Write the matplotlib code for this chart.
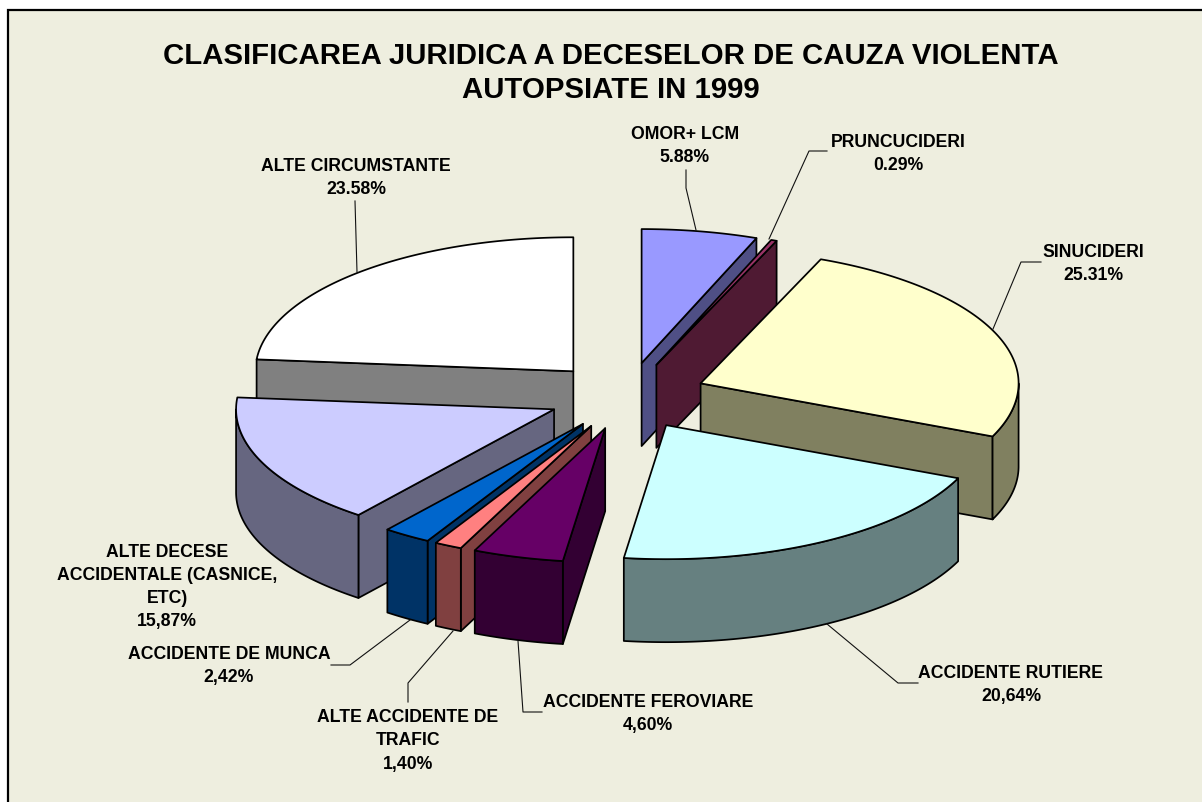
import numpy as np
import matplotlib
matplotlib.use("Agg")
import matplotlib.pyplot as plt
from matplotlib.patches import Polygon, Rectangle

plt.rcParams['font.family'] = ['Liberation Sans', 'DejaVu Sans']

title = "CLASIFICAREA JURIDICA A DECESELOR DE CAUZA VIOLENTA\nAUTOPSIATE IN 1999"
categories = ["OMOR+ LCM", "PRUNCUCIDERI", "SINUCIDERI", "ACCIDENTE RUTIERE",
              "ACCIDENTE FEROVIARE", "ALTE ACCIDENTE DE\nTRAFIC", "ACCIDENTE DE MUNCA",
              "ALTE DECESE\nACCIDENTALE (CASNICE,\nETC)", "ALTE CIRCUMSTANTE"]
values = [5.88, 0.29, 25.31, 20.64, 4.60, 1.40, 2.42, 15.87, 23.58]
value_labels = ["5.88%", "0.29%", "25.31%", "20,64%", "4,60%", "1,40%", "2,42%", "15,87%", "23.58%"]
top_colors = ["#9999FF", "#993366", "#FFFFCC", "#CCFFFF", "#660066", "#FF8080", "#0066CC", "#CCCCFF", "#FFFFFF"]
side_colors = ["#4F4F85", "#4F1A33", "#808060", "#668080", "#330033", "#804040", "#003366", "#666680", "#808080"]
draw_order = [8, 7, 6, 5, 4, 0, 1, 2, 3]

label_pos = [(685, 146), (898, 154), (1093, 264), (1011, 685), (648, 714), (408, 741), (229, 666), (167, 587), (356, 178)]
leaders = [[(686, 171), (686, 189), (696, 231)],
           [(827, 152), (809, 152), (769, 240)],
           [(1041, 263), (1021, 263), (993, 330)],
           [(918, 684), (898, 684), (827, 625)],
           [(542, 713), (523, 713), (518, 642)],
           [(408, 703), (408, 684), (453, 632)],
           [(331, 666), (350, 666), (410, 621)],
           None,
           [(355, 202), (357, 273)]]

CX, CY, RX, RY, DEPTH, EXPLODE = 627, 397, 318, 134, 83, 0.25
BG = "#EEEEDF"

fig = plt.figure(figsize=(12.02, 8.03), dpi=100, facecolor="white")
ax = fig.add_axes([0, 0, 1, 1])
ax.set_xlim(0, 1202)
ax.set_ylim(803, 0)
ax.axis("off")

ax.add_patch(Rectangle((8, 11), 1300, 900, fc=BG, ec="black", lw=1.6, zorder=0))


def rim(ax0, ay0, a0, a1, dy=0.0):
    t = np.radians(np.linspace(a0, a1, max(int(abs(a1 - a0) * 2), 2)))
    return np.column_stack([ax0 + RX * np.sin(t), ay0 - RY * np.cos(t) + dy])


edges = np.concatenate([[0], np.cumsum(values)]) / sum(values) * 360
z = 1
for i in draw_order:
    a0, a1 = edges[i], edges[i + 1]
    mid = np.radians((a0 + a1) / 2)
    px = CX + EXPLODE * RX * np.sin(mid)
    py = CY - EXPLODE * RY * np.cos(mid)
    faces = []
    if 180 < a0 < 360:
        p = rim(px, py, a0, a0)[0]
        faces.append([(px, py), tuple(p), (p[0], p[1] + DEPTH), (px, py + DEPTH)])
    if 0 < a1 < 180:
        p = rim(px, py, a1, a1)[0]
        faces.append([(px, py), tuple(p), (p[0], p[1] + DEPTH), (px, py + DEPTH)])
    lo, hi = max(a0, 90), min(a1, 270)
    if hi > lo:
        upper = rim(px, py, lo, hi)
        lower = rim(px, py, hi, lo, DEPTH)
        faces.append(np.vstack([upper, lower]))
    for f in faces:
        ax.add_patch(Polygon(f, closed=True, fc=side_colors[i], ec="black", lw=1.25, joinstyle="round", zorder=z))
        z += 1
    top = np.vstack([[px, py], rim(px, py, a0, a1)])
    ax.add_patch(Polygon(top, closed=True, fc=top_colors[i], ec="black", lw=1.25, joinstyle="round", zorder=z))
    z += 1

for line in leaders:
    if line:
        xs, ys = zip(*line)
        ax.plot(xs, ys, color="#111111", lw=0.8, zorder=z)

ax.text(611, 73, title, ha="center", va="center", fontsize=21.2, fontweight="bold",
        linespacing=1.27, color="black", zorder=z)
for name, val, (x, y) in zip(categories, value_labels, label_pos):
    ax.text(x, y, name + "\n" + val, ha="center", va="center", fontsize=12.7, fontweight="bold",
            linespacing=1.48, color="black", zorder=z)

fig.savefig("out.png", dpi=100, facecolor="white")
